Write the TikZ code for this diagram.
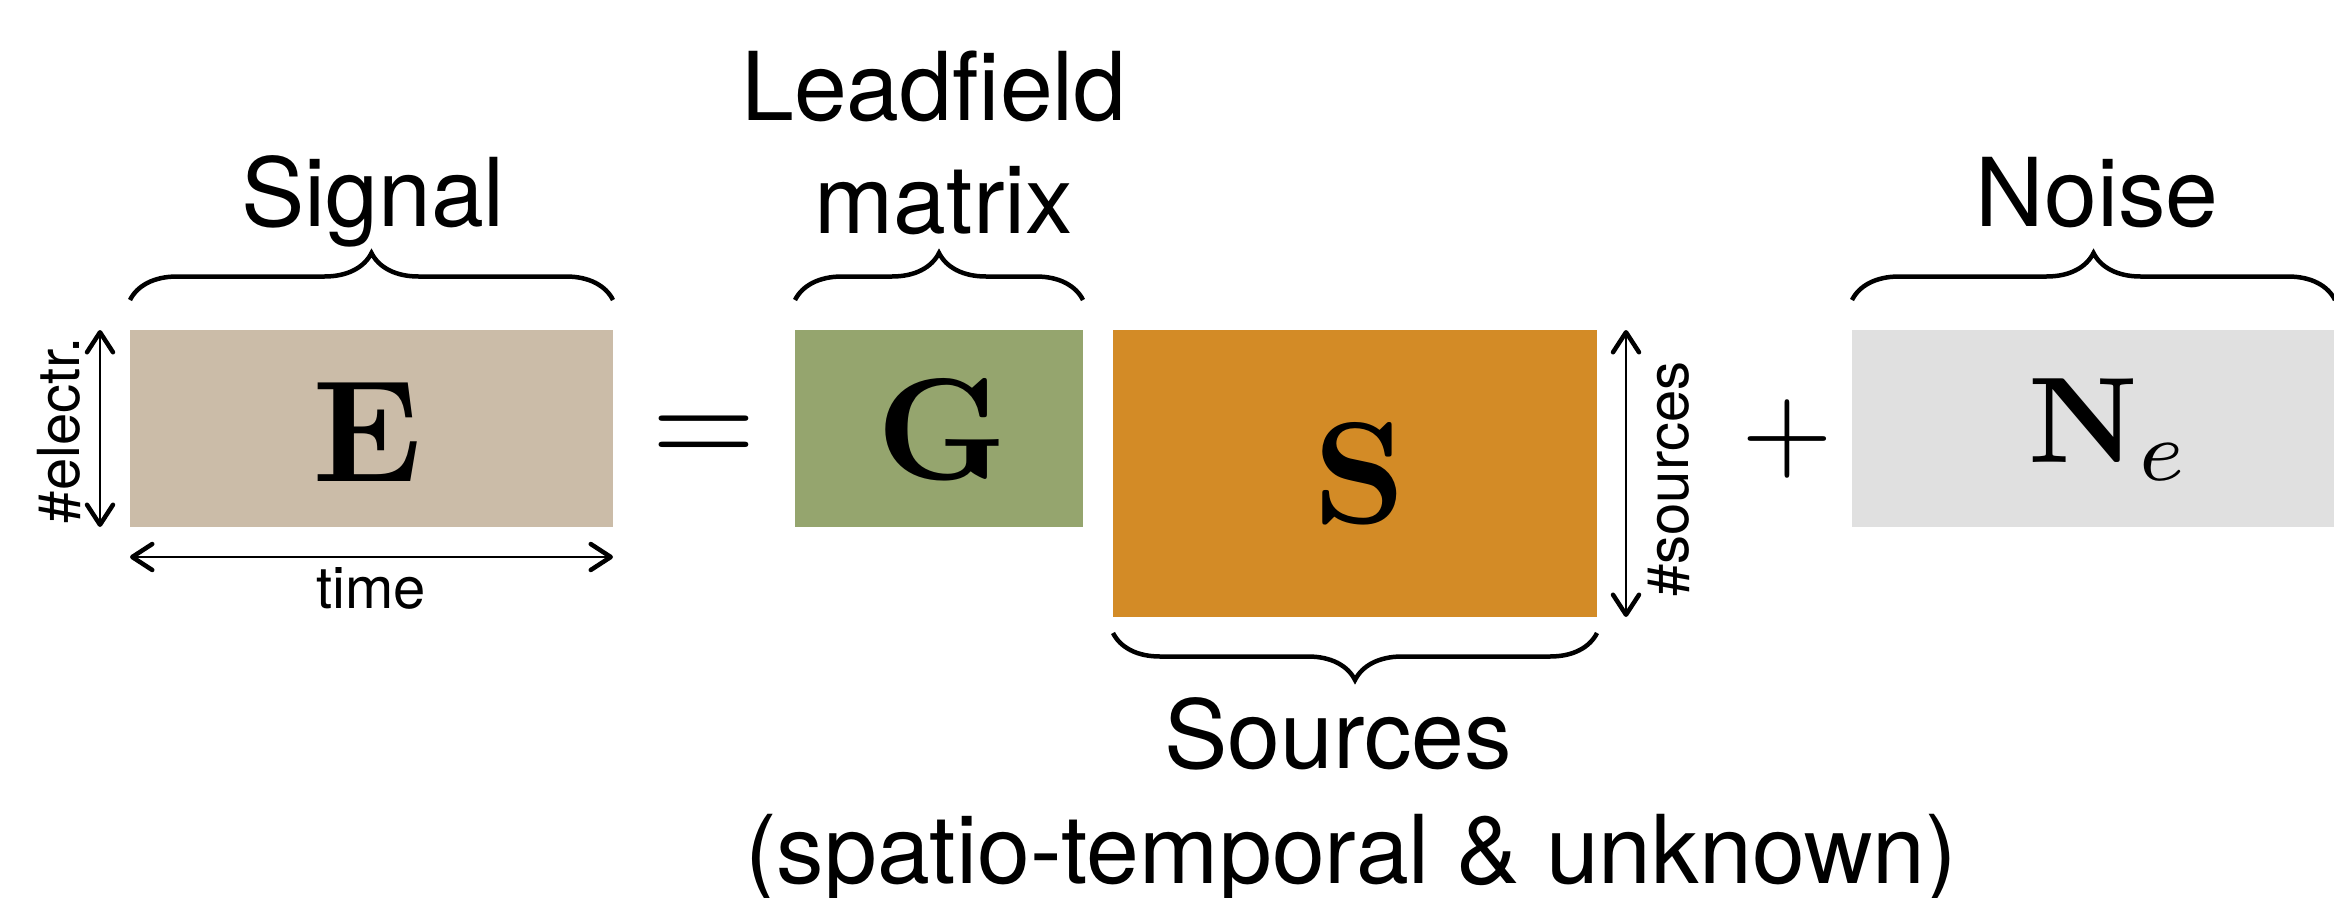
\documentclass[tikz,border=0pt]{standalone}
\usepackage[no-math]{fontspec}
\setmainfont{TeX Gyre Heros}
\usetikzlibrary{decorations.pathreplacing,arrows.meta}
\definecolor{ecol}{RGB}{203,188,168}
\definecolor{gcol}{RGB}{149,165,110}
\definecolor{scol}{RGB}{211,139,38}
\definecolor{ncol}{RGB}{224,224,224}
\begin{document}
\begin{tikzpicture}[x=1pt,y=-1pt,
  matbox/.style={draw=none, inner sep=0pt, outer sep=0pt, anchor=north west},
  brc/.style={decorate, decoration={brace, amplitude=47pt}, line width=4.5pt},
  barb/.tip={Straight Barb[length=20pt,width=26pt,line width=4.5pt,round]},
  dimarrow/.style={barb-barb, line width=2.2pt},
  big/.style={font=\fontsize{95}{100}\selectfont, inner sep=0pt, anchor=base},
  small/.style={font=\fontsize{58}{60}\selectfont, inner sep=0pt, anchor=base},
  sym/.style={inner sep=0pt, anchor=base, font=\fontsize{10}{12}\selectfont}]
\useasboundingbox (0,0) rectangle (2334,897);
\fill[white] (0,0) rectangle (2334,897);

% matrices
\node[matbox, fill=ecol, minimum width=483pt, minimum height=197pt] (E) at (130,330) {};
\node[matbox, fill=gcol, minimum width=288pt, minimum height=197pt] (G) at (795,330) {};
\node[matbox, fill=scol, minimum width=484pt, minimum height=287pt] (S) at (1113,330) {};
\node[matbox, fill=ncol, minimum width=483pt, minimum height=197pt] (N) at (1852,330) {};

% symbols
\node[sym, scale=14.5] (Et) at (367,481) {$\mathbf{E}$};
\node[sym, scale=14.5] (Gt) at (942,479) {$\mathbf{G}$};
\node[sym, scale=14.5] (St) at (1360,523) {$\mathbf{S}$};
\node[sym, scale=12.2] (Nt) at (2110,462) {$\mathbf{N}_e$};
\node[sym, scale=13.5] (eq) at (704,465) {$=$};
\node[sym, scale=11.8] (plus) at (1787,468) {$+$};

% braces
\draw[brc] ([yshift=30pt]E.north west) -- ([yshift=30pt]E.north east);
\draw[brc] ([yshift=30pt]G.north west) -- ([yshift=30pt]G.north east);
\draw[brc] ([yshift=30pt]N.north west) -- ([yshift=30pt]N.north east);
\draw[brc] ([yshift=-16pt]S.south east) -- ([yshift=-16pt]S.south west);

% dimension arrows
\draw[dimarrow] ([xshift=-30pt]E.north west) -- ([xshift=-30pt]E.south west);
\draw[dimarrow] ([yshift=-30pt]E.south west) -- ([yshift=-30pt]E.south east);
\draw[dimarrow] ([xshift=29pt]S.north east) -- ([xshift=29pt]S.south east);

% labels
\node[big] (signal) at (373,226) {Signal};
\node[big] (lead1) at (934,120) {Leadfield};
\node[big] (lead2) at (944,233) {matrix};
\node[big] (noise) at (2097,226) {Noise};
\node[big] (src1) at (1338,768) {Sources};
\node[big] (src2) at (1351,883) {(spatio-temporal \& unknown)};
\node[small, rotate=90] (electr) at (79,430) {\#electr.};
\node[small] (time) at (371,608) {time};
\node[small, rotate=90] (nsrc) at (1688,479) {\#sources};
\end{tikzpicture}
\end{document}
